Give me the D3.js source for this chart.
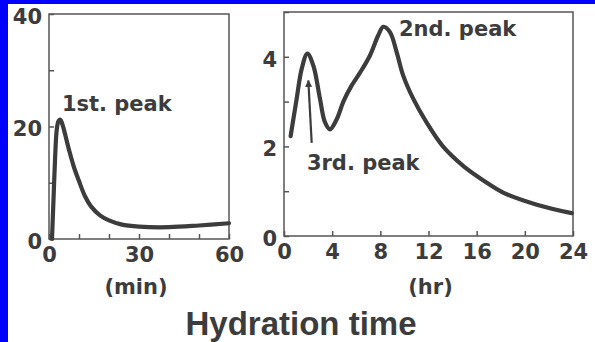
<!DOCTYPE html>
<html>
<head>
<meta charset="utf-8">
<script src="https://cdn.jsdelivr.net/npm/d3@7"></script>
<style>
  body { margin: 0; background: #fff; }
  svg { display: block; }
</style>
</head>
<body>
<svg id="chart" width="595" height="342"></svg>
<script>
// données
var minTicks = [0, 10, 20, 30, 40, 50, 60];
var minLabels = [0, 30, 60];
var minYTicks = [0, 10, 20, 30, 40];
var minYLabels = [0, 20, 40];
var minData = [
  [1.0, 0], [1.5, 7], [2.0, 14], [2.6, 19.5], [3.2, 21], [3.8, 21.2], [4.4, 20.5],
  [5.0, 19.4], [6.7, 15.8], [8.3, 12.8], [10, 10.3], [12, 7.6], [14, 5.8],
  [17, 4.2], [20, 3.3], [24, 2.6], [30, 2.2], [40, 2.1], [50, 2.4], [60, 2.8]
];

var hrTicks = [0, 4, 8, 12, 16, 20, 24];
var hrYTicks = [0, 1, 2, 3, 4, 5];
var hrYLabels = [0, 2, 4];
var hrData = [
  [0.55, 2.23], [1.05, 3.06], [1.47, 3.73], [1.94, 4.07], [2.44, 3.8], [2.99, 3.06],
  [3.4, 2.54], [3.82, 2.38], [4.37, 2.6], [4.93, 3.0], [5.6, 3.35], [6.3, 3.64],
  [7.14, 4.03], [7.83, 4.48], [8.25, 4.67], [8.8, 4.55], [9.36, 4.1], [9.9, 3.58],
  [10.74, 3.06], [11.85, 2.53], [13.2, 2.0], [14.9, 1.56], [16.5, 1.25], [18.2, 0.97],
  [21, 0.70], [23.9, 0.51]
];

var svg = d3.select("#chart");
var ink = "#3c3c3c";
var font = "DejaVu Sans";

// fond + bordure bleue
svg.append("rect").attr("width", 595).attr("height", 342).attr("fill", "#fff");
svg.append("rect").attr("x", 0).attr("y", 0).attr("width", 595).attr("height", 4).attr("fill", "#0000ff");
svg.append("rect").attr("x", 0).attr("y", 0).attr("width", 8).attr("height", 342).attr("fill", "#0000ff");

function panel(opt){
  var x = d3.scaleLinear().domain(opt.xDomain).range([opt.left, opt.right]);
  var y = d3.scaleLinear().domain(opt.yDomain).range([opt.bottom, opt.top]);
  var g = svg.append("g");

  // axe x : ticks vers l'intérieur
  var ax = g.append("g").attr("transform", "translate(0," + opt.bottom + ")")
    .call(d3.axisBottom(x).tickValues(opt.xTicks).tickSizeInner(-5).tickSizeOuter(0)
      .tickPadding(0)
      .tickFormat(function(d){ return opt.xLabels.indexOf(d) >= 0 ? d : ""; }));
  ax.selectAll("text").attr("y", 23).attr("dy", 0);

  var ay = g.append("g").attr("transform", "translate(" + opt.left + ",0)")
    .call(d3.axisLeft(y).tickValues(opt.yTicks).tickSizeInner(-5).tickSizeOuter(0)
      .tickPadding(7)
      .tickFormat(function(d){ return opt.yLabels.indexOf(d) >= 0 ? d : ""; }));
  ay.selectAll("text").attr("dy", "0.45em");

  g.selectAll(".domain").remove();
  g.selectAll(".tick line").attr("stroke", "#555").attr("stroke-width", 1.5);
  g.selectAll(".tick text").attr("fill", ink).attr("font-family", font)
    .attr("font-weight", "bold").attr("font-size", 21);

  // cadre
  g.append("rect").attr("x", opt.left).attr("y", opt.top)
    .attr("width", opt.right - opt.left).attr("height", opt.bottom - opt.top)
    .attr("fill", "none").attr("stroke", "#555").attr("stroke-width", 1.5);

  var line = d3.line()
    .x(function(d){ return x(d[0]); })
    .y(function(d){ return y(d[1]); })
    .curve(d3.curveCatmullRom.alpha(0.5));
  g.append("path").datum(opt.data).attr("d", line)
    .attr("fill", "none").attr("stroke", ink).attr("stroke-width", 4.2)
    .attr("stroke-linejoin", "round").attr("stroke-linecap", "round");

  g.append("text").attr("x", (opt.left + opt.right) / 2 + opt.unitDx).attr("y", 294)
    .attr("text-anchor", "middle").attr("fill", ink).attr("font-family", font)
    .attr("font-weight", "bold").attr("font-size", 21).text(opt.unit);

  return {x: x, y: y, g: g};
}

var p1 = panel({
  left: 49, right: 229, top: 14, bottom: 239,
  xDomain: [0, 60], yDomain: [0, 40],
  xTicks: minTicks, xLabels: minLabels, yTicks: minYTicks, yLabels: minYLabels,
  data: minData, unit: "(min)", unitDx: -3
});

var p2 = panel({
  left: 284, right: 573, top: 12, bottom: 236,
  xDomain: [0, 24], yDomain: [0, 5],
  xTicks: hrTicks, xLabels: hrTicks, yTicks: hrYTicks, yLabels: hrYLabels,
  data: hrData, unit: "(hr)", unitDx: 2
});

function note(txt, x, y){
  svg.append("text").attr("x", x).attr("y", y).attr("fill", ink)
    .attr("font-family", font).attr("font-weight", "bold").attr("font-size", 21)
    .text(txt);
}
note("1st. peak", p1.x(4.3), p1.y(22.8));
note("2nd. peak", p2.x(9.55), p2.y(4.47));
note("3rd. peak", p2.x(1.9), p2.y(1.48));

// flèche vers le 3e pic
svg.append("defs").append("marker").attr("id", "head")
  .attr("viewBox", "0 0 10 10").attr("refX", 9).attr("refY", 5)
  .attr("markerWidth", 3.2).attr("markerHeight", 3.6).attr("markerUnits", "strokeWidth")
  .attr("orient", "auto")
  .append("path").attr("d", "M0,0L10,5L0,10Z").attr("fill", ink);
svg.append("line")
  .attr("x1", p2.x(2.3)).attr("y1", p2.y(2.08))
  .attr("x2", p2.x(2.02)).attr("y2", p2.y(3.47))
  .attr("stroke", ink).attr("stroke-width", 2.2).attr("marker-end", "url(#head)");

// titre
svg.append("text").attr("x", 301).attr("y", 335).attr("text-anchor", "middle")
  .attr("fill", ink).attr("font-family", "Liberation Sans").attr("font-weight", "bold")
  .attr("font-size", 33).text("Hydration time");
</script>
</body>
</html>
